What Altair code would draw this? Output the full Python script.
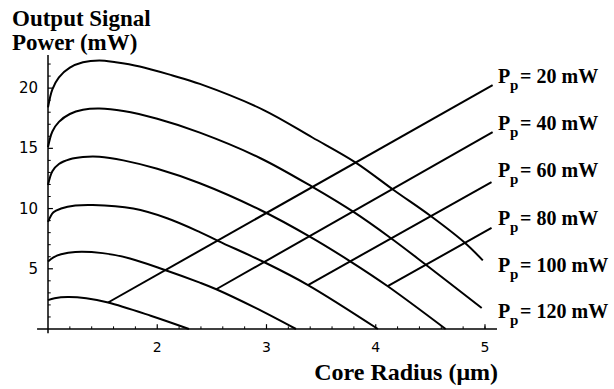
import altair as alt
import pandas as pd

# ---- data ----
c1_x = [1.00, 1.04, 1.10, 1.20, 1.32, 1.47, 1.62, 1.84, 2.14, 2.39, 2.97, 3.42, 3.82, 4.17, 4.50, 4.81, 4.98]
c1_y = [18.4, 19.9, 20.9, 21.7, 22.15, 22.3, 22.15, 21.8, 21.05, 20.35, 18.2, 15.9, 13.8, 11.5, 9.4, 7.2, 5.7]

c2_x = [1.00, 1.04, 1.10, 1.20, 1.32, 1.47, 1.69, 2.00, 2.39, 2.94, 3.42, 3.80, 4.13, 4.45, 4.97]
c2_y = [15.1, 16.4, 17.2, 17.85, 18.2, 18.3, 18.1, 17.45, 16.3, 14.2, 11.8, 9.7, 7.6, 5.4, 1.74]

c3_x = [1.00, 1.04, 1.10, 1.20, 1.32, 1.47, 1.69, 2.00, 2.39, 2.94, 3.40, 3.77, 4.11, 4.64]
c3_y = [11.95, 13.1, 13.7, 14.1, 14.28, 14.3, 14.0, 13.3, 12.1, 9.9, 7.65, 5.6, 3.55, 0.0]

c4_x = [1.00, 1.05, 1.12, 1.25, 1.41, 1.78, 2.09, 2.39, 2.56, 2.99, 3.38, 4.02]
c4_y = [8.9, 9.7, 10.0, 10.25, 10.3, 10.0, 9.2, 8.05, 7.3, 5.5, 3.65, 0.0]

c5_x = [1.00, 1.05, 1.12, 1.25, 1.50, 1.75, 2.07, 2.39, 2.54, 2.90, 3.27]
c5_y = [5.6, 5.95, 6.2, 6.4, 6.3, 5.85, 4.9, 3.85, 3.3, 1.75, 0.0]

c6_x = [1.00, 1.06, 1.18, 1.35, 1.55, 1.94, 2.29]
c6_y = [2.4, 2.55, 2.65, 2.55, 2.2, 1.1, 0.0]

lead_x1 = [1.55, 2.54, 3.38, 4.11]
lead_y1 = [2.2, 3.3, 3.65, 3.55]
lead_x2 = [5.07, 5.07, 5.06, 5.06]
lead_y2 = [20.25, 16.35, 12.2, 8.4]

label_names = ["20 mW", "40 mW", "60 mW", "80 mW", "100 mW", "120 mW"]
label_y = [20.4, 16.5, 12.6, 8.6, 4.7, 0.9]
label_x = 5.12

x_major = [2, 3, 4, 5]
x_minor = [1.2, 1.4, 1.6, 1.8, 2.2, 2.4, 2.6, 2.8, 3.2, 3.4, 3.6, 3.8,
           4.2, 4.4, 4.6, 4.8, 5.0]
y_major = [5, 10, 15, 20]
y_minor = [1, 2, 3, 4, 6, 7, 8, 9, 11, 12, 13, 14, 16, 17, 18, 19, 21, 22]

# ---- tables ----
rows = []
for name, xs_, ys_ in [("c1", c1_x, c1_y), ("c2", c2_x, c2_y), ("c3", c3_x, c3_y),
                       ("c4", c4_x, c4_y), ("c5", c5_x, c5_y), ("c6", c6_x, c6_y)]:
    for i, (a, b) in enumerate(zip(xs_, ys_)):
        rows.append({"series": name, "x": a, "y": b, "ord": i})
curves = pd.DataFrame(rows)

leaders = pd.DataFrame({"x": lead_x1, "y": lead_y1, "x2": lead_x2, "y2": lead_y2})
labels = pd.DataFrame({"name": ["= " + n for n in label_names], "y": label_y,
                       "x": [label_x] * len(label_y)})

axes_df = pd.DataFrame({"x": [0.9, 1.0], "x2": [5.11, 1.0], "y": [0.0, -0.35], "y2": [0.0, 22.75]})
xmaj_df = pd.DataFrame({"x": x_major, "y": [0.0] * 4, "y2": [0.4] * 4, "t": [str(v) for v in x_major]})
xmin_df = pd.DataFrame({"x": x_minor, "y": [0.0] * len(x_minor), "y2": [0.22] * len(x_minor)})
ymaj_df = pd.DataFrame({"y": y_major, "x": [1.0] * 4, "x2": [1.045] * 4, "t": [str(v) for v in y_major]})
ymin_df = pd.DataFrame({"y": y_minor, "x": [1.0] * len(y_minor), "x2": [1.025] * len(y_minor)})

xs = alt.Scale(domain=[1, 5.11], zero=False, nice=False)
ys = alt.Scale(domain=[0, 22.75], zero=False, nice=False)

def X(f):
    return alt.X(f, type="quantitative", scale=xs, axis=None)

def Y(f):
    return alt.Y(f, type="quantitative", scale=ys, axis=None)

serif = "Liberation Serif"
sans = "DejaVu Sans"

curve_layer = alt.Chart(curves).mark_line(color="black", strokeWidth=2, interpolate="catmull-rom").encode(
    x=X("x"), y=Y("y"), detail="series:N", order="ord:Q")

lead_layer = alt.Chart(leaders).mark_rule(color="black", strokeWidth=2).encode(
    x=X("x"), y=Y("y"), x2="x2", y2="y2")

axis_layer = alt.Chart(axes_df).mark_rule(color="black", strokeWidth=1.5).encode(
    x=X("x"), y=Y("y"), x2="x2", y2="y2")

xmaj_layer = alt.Chart(xmaj_df).mark_rule(color="black", strokeWidth=1.2).encode(
    x=X("x"), y=Y("y"), y2="y2")
xmin_layer = alt.Chart(xmin_df).mark_rule(color="black", strokeWidth=1).encode(
    x=X("x"), y=Y("y"), y2="y2")
ymaj_layer = alt.Chart(ymaj_df).mark_rule(color="black", strokeWidth=1.2).encode(
    x=X("x"), x2="x2", y=Y("y"))
ymin_layer = alt.Chart(ymin_df).mark_rule(color="black", strokeWidth=1).encode(
    x=X("x"), x2="x2", y=Y("y"))

xlab_layer = alt.Chart(xmaj_df).mark_text(font=sans, fontSize=14, color="black",
                                          align="center", baseline="middle", dy=19).encode(
    x=X("x"), y=Y("y"), text="t:N")
ylab_layer = alt.Chart(ymaj_df).mark_text(font=sans, fontSize=15, color="black",
                                          align="right", baseline="middle", dx=-10).encode(
    x=X("x"), y=Y("y"), text="t:N")

lab_P = alt.Chart(labels).mark_text(font=serif, fontSize=20, fontWeight="bold", color="black",
                                    align="left", baseline="alphabetic").encode(
    x=X("x"), y=Y("y"), text=alt.value("P"))
lab_p = alt.Chart(labels).mark_text(font=serif, fontSize=15, fontWeight="bold", color="black",
                                    align="left", baseline="alphabetic", dx=12, dy=7).encode(
    x=X("x"), y=Y("y"), text=alt.value("p"))
lab_rest = alt.Chart(labels).mark_text(font=serif, fontSize=20, fontWeight="bold", color="black",
                                       align="left", baseline="alphabetic", dx=22).encode(
    x=X("x"), y=Y("y"), text="name:N")

one = pd.DataFrame({"k": [0]})
ytitle = alt.Chart(one).mark_text(font=serif, fontSize=23, fontWeight="bold", color="black",
                                  align="left", baseline="alphabetic", lineHeight=24).encode(
    x=alt.value(-36), y=alt.value(-29), text=alt.value(["Output Signal", "Power (mW)"]))
xtitle = alt.Chart(one).mark_text(font=serif, fontSize=24, fontWeight="bold", color="black",
                                  align="right", baseline="alphabetic").encode(
    x=alt.value(450), y=alt.value(325), text=alt.value("Core Radius (\u03bcm)"))

chart = alt.layer(
    axis_layer, xmaj_layer, xmin_layer, ymaj_layer, ymin_layer,
    curve_layer, lead_layer, xlab_layer, ylab_layer,
    lab_P, lab_p, lab_rest, ytitle, xtitle,
).properties(
    width=449, height=274,
    autosize=alt.AutoSizeParams(type="none"),
    padding={"left": 48, "top": 55, "right": 117, "bottom": 60},
    background="white",
).configure_view(stroke=None)

chart.save("out.html", embed_options={"renderer": "svg", "actions": False})
